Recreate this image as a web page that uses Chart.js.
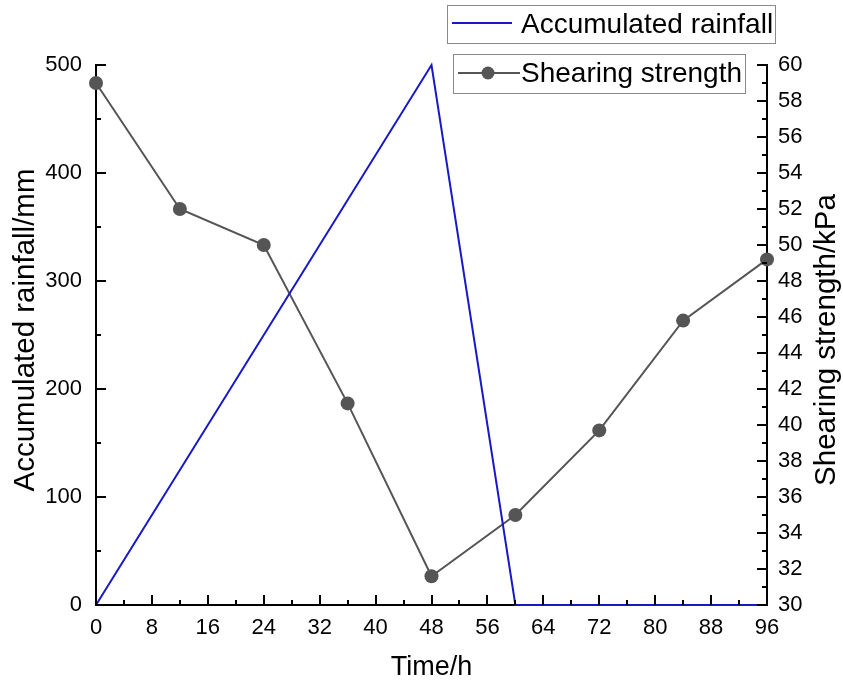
<!DOCTYPE html>
<html><head><meta charset="utf-8">
<script src="https://cdn.jsdelivr.net/npm/chart.js@4/dist/chart.umd.min.js"></script>
<style>html,body{margin:0;padding:0;background:#fff;}</style>
</head><body>
<canvas id="c" width="843" height="685"></canvas>
<script>
// Shearing strength sampled every 12 h
const timeHours = [0, 12, 24, 36, 48, 60, 72, 84, 96];
const shearStrength = [59.0, 52.0, 50.0, 41.2, 31.6, 35.0, 39.7, 45.8, 49.2];
// Accumulated rainfall: ramps up to 48 h, drops back to zero at 60 h
const rainTime = [0, 48, 60, 96];
const rainfall = [0, 500, 0, 0];

const xTicks = [0, 8, 16, 24, 32, 40, 48, 56, 64, 72, 80, 88, 96];
const seriesNames = ['Accumulated rainfall', 'Shearing strength'];
const axisTitles = { x: 'Time/h', y: 'Accumulated rainfall/mm', y1: 'Shearing strength/kPa' };

const FONT = "'Liberation Sans', Arial, sans-serif";
const BLUE = '#1818c8';
const GREY = '#555555';

// inward major/minor tick marks, axis titles and the two boxed legends
const decor = {
  id: 'decor',
  afterDraw(chart) {
    const ctx = chart.ctx;
    const a = chart.chartArea;
    const sx = chart.scales.x, sy = chart.scales.y, sy1 = chart.scales.y1;
    ctx.save();
    ctx.strokeStyle = '#000';
    ctx.lineWidth = 2;
    ctx.beginPath();
    for (let v = 0; v <= 96; v += 4) {
      const px = Math.round(sx.getPixelForValue(v));
      const len = v % 8 === 0 ? 10 : 5;
      ctx.moveTo(px, a.bottom); ctx.lineTo(px, a.bottom - len);
    }
    for (let v = 0; v <= 500; v += 50) {
      const py = Math.round(sy.getPixelForValue(v));
      const len = v % 100 === 0 ? 10 : 5;
      ctx.moveTo(a.left, py); ctx.lineTo(a.left + len, py);
    }
    for (let v = 30; v <= 60; v += 1) {
      const py = Math.round(sy1.getPixelForValue(v));
      const len = v % 2 === 0 ? 10 : 5;
      ctx.moveTo(a.right, py); ctx.lineTo(a.right - len, py);
    }
    ctx.stroke();

    // axis titles
    ctx.fillStyle = '#000';
    ctx.textAlign = 'center';
    ctx.textBaseline = 'alphabetic';
    ctx.font = '27px ' + FONT;
    ctx.fillText(axisTitles.x, (a.left + a.right) / 2, 675);
    ctx.font = '29.5px ' + FONT;
    ctx.save();
    ctx.translate(34, 330); ctx.rotate(-Math.PI / 2);
    ctx.fillText(axisTitles.y, 0, 0);
    ctx.restore();
    ctx.save();
    ctx.translate(835, 340); ctx.rotate(-Math.PI / 2);
    ctx.fillText(axisTitles.y1, 0, 0);
    ctx.restore();

    // legend boxes
    ctx.font = '28px ' + FONT;
    ctx.textAlign = 'left';
    ctx.textBaseline = 'middle';
    ctx.lineWidth = 1;
    ctx.strokeStyle = '#8a8a8a';
    ctx.strokeRect(447.5, 5.5, 328, 38);
    ctx.strokeRect(453.5, 54.5, 292, 39);
    ctx.fillText(seriesNames[0], 521, 25);
    ctx.fillText(seriesNames[1], 521, 74);
    ctx.lineWidth = 2;
    ctx.strokeStyle = BLUE;
    ctx.beginPath(); ctx.moveTo(452, 23); ctx.lineTo(512, 23); ctx.stroke();
    ctx.strokeStyle = GREY;
    ctx.beginPath(); ctx.moveTo(458, 73); ctx.lineTo(520, 73); ctx.stroke();
    ctx.fillStyle = GREY;
    ctx.beginPath(); ctx.arc(488, 73, 6.5, 0, Math.PI * 2); ctx.fill();
    ctx.restore();
  }
};

new Chart(document.getElementById('c'), {
  type: 'line',
  data: {
    datasets: [
      {
        label: seriesNames[0],
        data: rainTime.map((t, i) => ({ x: t, y: rainfall[i] })),
        yAxisID: 'y',
        borderColor: BLUE,
        borderWidth: 2,
        pointRadius: 0,
        tension: 0,
        clip: false
      },
      {
        label: seriesNames[1],
        data: timeHours.map((t, i) => ({ x: t, y: shearStrength[i] })),
        yAxisID: 'y1',
        borderColor: GREY,
        borderWidth: 2,
        pointRadius: 7,
        pointBackgroundColor: GREY,
        pointBorderColor: GREY,
        pointBorderWidth: 0,
        tension: 0,
        clip: false
      }
    ]
  },
  options: {
    responsive: false,
    animation: false,
    devicePixelRatio: 1,
    layout: { padding: { top: 65, left: 0, right: 0, bottom: 0 } },
    plugins: { legend: { display: false }, tooltip: { enabled: false } },
    scales: {
      x: {
        type: 'linear', position: 'bottom', min: 0, max: 96,
        afterFit(s) { s.height = 80; },
        afterBuildTicks(s) { s.ticks = xTicks.map(v => ({ value: v })); },
        grid: { display: false, drawTicks: false },
        border: { display: true, color: '#000', width: 2 },
        ticks: { color: '#000', padding: 10, maxRotation: 0, autoSkip: false, font: { family: FONT, size: 22 } }
      },
      y: {
        type: 'linear', position: 'left', min: 0, max: 500,
        afterFit(s) { s.width = 96; },
        grid: { display: false, drawTicks: false },
        border: { display: true, color: '#000', width: 2 },
        ticks: { stepSize: 100, color: '#000', padding: 14, font: { family: FONT, size: 22 } }
      },
      y1: {
        type: 'linear', position: 'right', min: 30, max: 60,
        afterFit(s) { s.width = 76; },
        grid: { display: false, drawTicks: false },
        border: { display: true, color: '#000', width: 2 },
        ticks: { stepSize: 2, color: '#000', padding: 11, font: { family: FONT, size: 22 } }
      }
    }
  },
  plugins: [decor]
});
</script>
</body></html>
